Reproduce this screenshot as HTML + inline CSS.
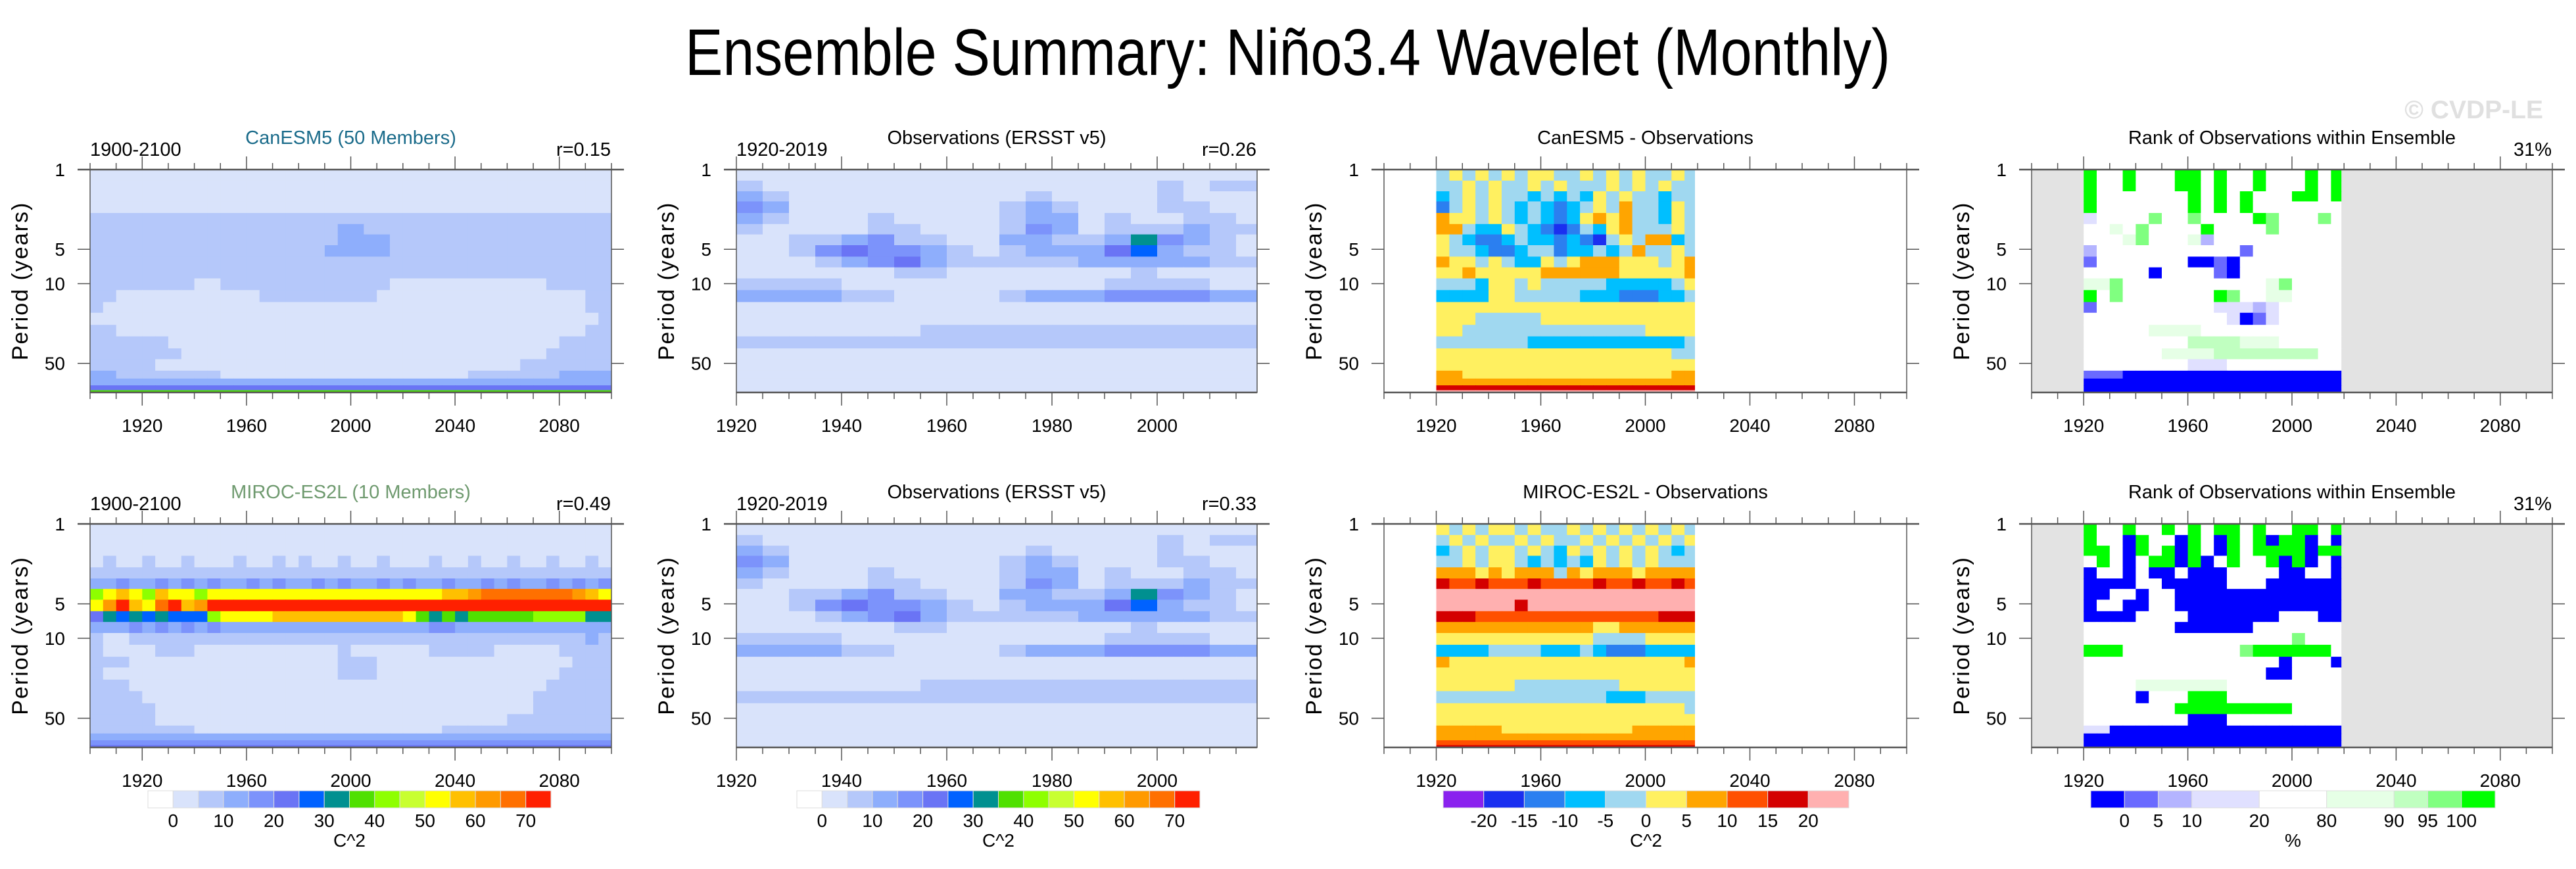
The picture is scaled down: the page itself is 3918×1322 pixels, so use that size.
<!DOCTYPE html>
<html><head><meta charset="utf-8"><style>
html,body{margin:0;padding:0;background:#fff;}
svg{display:block;font-family:"Liberation Sans",sans-serif;}
</style></head><body>
<svg id="fig" width="3918" height="1322" viewBox="0 0 3918 1322" xmlns="http://www.w3.org/2000/svg">
<rect x="0" y="0" width="3918" height="1322" fill="#fff"/>
<text x="1042" y="114" font-size="100" textLength="1833" lengthAdjust="spacingAndGlyphs">Ensemble Summary: Niño3.4 Wavelet (Monthly)</text>
<text x="3868" y="180" font-size="39" font-weight="bold" fill="#e0e0e0" text-anchor="end">© CVDP-LE</text>
<g id="layer"></g>
</svg>
<script>
// ---- data ----
const periodEdges=[1,1.25,1.55,1.9,2.4,3,3.7,4.6,5.8,7.2,9,11.4,14.5,18,23,29,37,46,58,68,78,86,90];
const powerLevels=[0,5,10,15,20,25,30,35,40,45,50,55,60,65,70];
const powerTickLabels=['0','10','20','30','40','50','60','70'];
const diffTickLabels=['-20','-15','-10','-5','0','5','10','15','20'];
const rankTickLabels=['0','5','10','20','80','90','95','100'];
const rankEdges=[-5,0,5,10,20,80,90,95,100,105];
const yearTicksLong=[1920,1960,2000,2040,2080];
const yearTicksObs=[1920,1940,1960,1980,2000];
const periodTicks=[1,5,10,50];

const canRows=[
"1111111111111111111111111111111111111111",
"1111111111111111111111111111111111111111",
"1111111111111111111111111111111111111111",
"1111111111111111111111111111111111111111",
"2222222222222222222222222222222222222222",
"2222222222222222222332222222222222222222",
"2222222222222222222333322222222222222222",
"2222222222222222223333322222222222222222",
"2222222222222222222222222222222222222222",
"2222222222222222222222222222222222222222",
"2222222211222222222222211111111111122222",
"2211111111111222222222111111111111111122",
"2111111111111111111111111111111111111122",
"1111111111111111111111111111111111111112",
"2211111111111111111111111111111111111122",
"2222221111111111111111111111111111112222",
"2222222111111111111111111111111111122222",
"2222211111111111111111111111111112222222",
"3322222222111111111111111111122222223333",
"3333333333333333333333333333333333333333",
"5555555555555555555555555555555555555555",
"8888888888888888888888888888888888888888"];
const obs1Rows=[
"11111111111111111111",
"21111111111111112122",
"32111111111211112111",
"43111111112321112211",
"32111211112331211221",
"21111221112431222322",
"11223422113322374321",
"11245443212333563221",
"11123453222223333322",
"11111122111111121111",
"22221111111111222211",
"33332211112333444433",
"11111111111111111111",
"11111111111111111111",
"11111112222222222222",
"22222222222222222222",
"11111111111111111111",
"11111111111111111111",
"11111111111111111111",
"11111111111111111111",
"11111111111111111111"];
const mirocRows=[
"1111111111111111111111111111111111111111",
"1111111111111111111111111111111111111111",
"1111111111111111111111111111111111111111",
"1211211211121121211211211121121121121121",
"2222222222222222222222222222222222222222",
"3343343434334343343433434334334343343434",
"9bcb9cbb9bbbbbbbbbbbbbbbbbbccdeeeeeeedcb",
"bdfcbefcdfffffffffffffffffffffffffffffff",
"5767676669bbbbccccccccccb878788888999977",
"3334343434333333333333333344333333333333",
"2112222222222222222222222222222222222232",
"2111122211111111111211111122222111112222",
"2221111111111111111222111111111111111222",
"2111111111111111111222111111111111112222",
"2221111111111111111111111111111111122222",
"2222111111111111111111111111111111222222",
"2222211111111111111111111111111111222222",
"2222211111111111111111111111111122222222",
"2222222211111111111111111112222222222222",
"3333333333333333333333333333333333333333",
"4444444444444444444444444444444444444444",
"5555555555555555555555555555555555555555"];
const obs2Rows=[
"11111111111111111111",
"21111111111111112122",
"32111111111211112111",
"43111111112321112211",
"32111211112331211221",
"21111221112431222322",
"11223422113322374321",
"11245443212333563221",
"11123453222223333322",
"11111122111111121111",
"22221111111111222211",
"33332211112333444433",
"11111111111111111111",
"11111111111111111111",
"11111112222222222222",
"22222222222222222222",
"11111111111111111111",
"11111111111111111111",
"11111111111111111111",
"11111111111111111111",
"11111111111111111111"];
const diff1Rows=[
"45454545544545454454",
"44545445454445454544",
"34545443434354544344",
"24545434323454644354",
"65545434323565644354",
"66433543212435644454",
"54322343323214546634",
"54432234423343464454",
"65545433545666555456",
"55655555666666555556",
"44435545444443333345",
"33335544444333222334",
"55555555555555555555",
"55544444555555555555",
"55444444444444445555",
"44444443333333333334",
"55555555555555555544",
"55555555555555555555",
"66555555555555555566",
"66666666666666666666",
"88888888888888888888",
"99999999999999999999"];
const diff2Rows=[
"54545545445454545454",
"45454454544545454545",
"34545545435454545434",
"44545543434354545444",
"66656566646566656666",
"87787778777787787787",
"99999999999999999999",
"99999989999999999999",
"88877777777777777888",
"66666666666655666666",
"55555555555544445555",
"33334444333432223333",
"65555555555555555556",
"55555555555555555555",
"55555544444444555555",
"44444444444443334444",
"55555555555555555554",
"55555555555555555555",
"66666555555555566666",
"66666666666666666666",
"77777777777777777777",
"88888888888888888888"];
const rank1Rows=[
"84484448848448444848",
"84484448848448444848",
"84444444848484448848",
"84444444848484444444",
"34444744744448744474",
"44547444484444744444",
"44457444524444444444",
"24444444444414444444",
"14444444001044444444",
"44444044441044444444",
"55744444444444574444",
"84744444448744554444",
"14444444443332344444",
"44444444444301344444",
"44444555544444444444",
"44444444666655544444",
"44444455556666666644",
"44444444333444444444",
"11100000000000000000",
"00000000000000000000",
"00000000000000000000"];
const rank2Rows=[
"84484484848848448848",
"84408440840848088040",
"88408480840848888088",
"48404880804844808040",
"04404004000444400440",
"00004400000444000000",
"00440440000000000000",
"04400440000000000000",
"00004444000000044400",
"44444440000004444444",
"44444444444444447444",
"88844444444478888884",
"44444444444444404440",
"44444444444444004444",
"44445555555444444444",
"44440444888444444444",
"44444448888888884444",
"44444444000444444444",
"33000000000000000000",
"00000000000000000000",
"00000000000000000000"];

// ---- palettes ----
const powerPal=['#ffffff','#d9e3fb','#b5c8fa','#8eaefc','#7c93fb','#6a74f5','#0062ff','#009090','#4fe000','#8eff00','#c8ff30','#ffff00','#ffc000','#ff9a00','#ff7000','#ff2000'];
const diffPal=['#8a22ee','#1a2ff0','#2b7ff0','#00bfff','#a0d8f0','#fff060','#ffa500','#ff5000','#d40000','#ffb0b0'];
const rankPal=['#0000ff','#6a6aff','#b4b4ff','#e0e0ff','#ffffff','#e6ffe6','#c0ffc0','#80ff80','#00ff00'];

const NS='http://www.w3.org/2000/svg';
const layer=document.getElementById('layer');
function mk(tag,attrs,parent){const e=document.createElementNS(NS,tag);for(const k in attrs)e.setAttribute(k,attrs[k]);(parent||layer).appendChild(e);return e;}
const LOGMAX=Math.log10(periodEdges[periodEdges.length-1]);

const panels=[
 {id:'canesm5',x0:137,x1:930,top:258,h:339,a:1900,b:2100,start:1900,step:5,rows:canRows,pal:powerPal,title:'CanESM5 (50 Members)',tcol:'#1a6b8a',left:'1900-2100',right:'r=0.15',ticks:yearTicksLong,minor:10,bg:'#fff'},
 {id:'obs-row1',x0:1120,x1:1912,top:258,h:339,a:1920,b:2019,start:1920,step:5,rows:obs1Rows,pal:powerPal,title:'Observations (ERSST v5)',tcol:'#000',left:'1920-2019',right:'r=0.26',ticks:yearTicksObs,minor:5,bg:'#fff'},
 {id:'canesm5-minus-obs',x0:2105,x1:2900,top:258,h:339,a:1900,b:2100,start:1920,step:5,rows:diff1Rows,pal:diffPal,title:'CanESM5 - Observations',tcol:'#000',left:'',right:'',ticks:yearTicksLong,minor:10,bg:'#fff'},
 {id:'rank-row1',x0:3090,x1:3882,top:258,h:339,a:1900,b:2100,start:1920,step:5,rows:rank1Rows,pal:rankPal,title:'Rank of Observations within Ensemble',tcol:'#000',left:'',right:'31%',ticks:yearTicksLong,minor:10,bg:'#e3e3e3'},
 {id:'miroc',x0:137,x1:930,top:797,h:340,a:1900,b:2100,start:1900,step:5,rows:mirocRows,pal:powerPal,title:'MIROC-ES2L (10 Members)',tcol:'#6f9a6f',left:'1900-2100',right:'r=0.49',ticks:yearTicksLong,minor:10,bg:'#fff'},
 {id:'obs-row2',x0:1120,x1:1912,top:797,h:340,a:1920,b:2019,start:1920,step:5,rows:obs2Rows,pal:powerPal,title:'Observations (ERSST v5)',tcol:'#000',left:'1920-2019',right:'r=0.33',ticks:yearTicksObs,minor:5,bg:'#fff'},
 {id:'miroc-minus-obs',x0:2105,x1:2900,top:797,h:340,a:1900,b:2100,start:1920,step:5,rows:diff2Rows,pal:diffPal,title:'MIROC-ES2L - Observations',tcol:'#000',left:'',right:'',ticks:yearTicksLong,minor:10,bg:'#fff'},
 {id:'rank-row2',x0:3090,x1:3882,top:797,h:340,a:1900,b:2100,start:1920,step:5,rows:rank2Rows,pal:rankPal,title:'Rank of Observations within Ensemble',tcol:'#000',left:'',right:'31%',ticks:yearTicksLong,minor:10,bg:'#e3e3e3'}
];

panels.forEach((P,pi)=>{
  const xS=yr=>P.x0+(yr-P.a)/(P.b-P.a)*(P.x1-P.x0);
  const yS=p=>P.top+Math.log10(p)/LOGMAX*P.h;
  const g=mk('g',{});
  
  
  const bg=mk('rect',{x:P.x0,y:P.top,width:P.x1-P.x0,height:P.h,fill:P.bg},g);
  
  
  const cells=mk('g',{},g);
  
  
  const dataEnd=Math.min(P.b, P.a===1900&&P.start===1920?2019:P.b);
  for(let i=0;i<periodEdges.length-1;i++){
    const row=P.rows[Math.min(i,P.rows.length-1)];
    const y0=yS(periodEdges[i]), y1=yS(periodEdges[i+1]);
    const ncols=Math.round(((P.start===1900?2100:2020)-P.start)/P.step);
    for(let j=0;j<ncols;j++){
      const ch=row[j]!==undefined?row[j]:row[row.length-1];
      const lv=parseInt(ch,16);
      const yr0=P.start+j*P.step;
      const yr1=Math.min(yr0+P.step,dataEnd);
      const xa=xS(yr0), xb=xS(yr1);
      const r=mk('rect',{x:xa.toFixed(1),y:y0.toFixed(1),width:(xb-xa+(yr1<dataEnd?0.6:0)).toFixed(1),height:(y1-y0+0.6).toFixed(1),fill:P.pal[lv]},cells);
      
      
    }
  }
  const fr=mk('rect',{x:P.x0,y:P.top,width:P.x1-P.x0,height:P.h,fill:'none',stroke:'#555','stroke-width':1.5},g);
  
  
  const tl=mk('line',{x1:P.x0-19,x2:P.x1+19,y1:P.top,y2:P.top,stroke:'#555','stroke-width':2.5},g);
  
  
  const bl=mk('line',{x1:P.x0,x2:P.x1,y1:P.top+P.h,y2:P.top+P.h,stroke:'#555','stroke-width':2.5},g);
  
  
  for(let yr=P.a;yr<=P.b;yr+=P.minor){
    const x=xS(yr);
    const major=P.ticks.indexOf(yr)>=0;
    const L=major?20:10;
    const t1=mk('line',{x1:x,x2:x,y1:P.top,y2:P.top-L,stroke:'#555','stroke-width':1.5},g);
    
    
    const t2=mk('line',{x1:x,x2:x,y1:P.top+P.h,y2:P.top+P.h+L,stroke:'#555','stroke-width':1.5},g);
    
    
  }
  P.ticks.forEach(yr=>{
    const t=mk('text',{x:xS(yr),y:P.top+P.h+60,'font-size':28,'text-anchor':'middle'},g);
    t.textContent=yr;
    
    
  });
  periodTicks.forEach(p=>{
    const y=yS(p);
    const a=mk('line',{x1:P.x0-19,x2:P.x0,y1:y,y2:y,stroke:'#555','stroke-width':1.5},g);
    
    
    const b=mk('line',{x1:P.x1,x2:P.x1+19,y1:y,y2:y,stroke:'#555','stroke-width':1.5},g);
    
    
    const t=mk('text',{x:P.x0-38,y:y+10,'font-size':28,'text-anchor':'end'},g);
    t.textContent=p;
    
    
  });
  const yl=mk('text',{x:0,y:0,'font-size':34,'text-anchor':'middle','letter-spacing':2,transform:`translate(${P.x0-95},${P.top+P.h/2}) rotate(-90)`},g);
  yl.textContent='Period (years)';
  
  
  const cx=(P.x0+P.x1)/2;
  const ti=mk('text',{x:cx,y:P.top-39,'font-size':29,'text-anchor':'middle',fill:P.tcol},g);
  ti.textContent=P.title;
  
  
  if(P.left){
    const l=mk('text',{x:P.x0,y:P.top-21,'font-size':29},g);
    l.textContent=P.left;
    
    
  }
  if(P.right){
    const r=mk('text',{x:P.x1-1,y:P.top-21,'font-size':29,'text-anchor':'end'},g);
    r.textContent=P.right;
    
    
  }
});

function colorbar(name,x0,x1,cols,widths,labels,labelIdx,unit){
  const g=mk('g',{});
  
  
  const total=widths.reduce((s,v)=>s+v,0);
  let acc=0; const edges=[x0];
  cols.forEach((c,i)=>{
    const xa=x0+acc/total*(x1-x0); acc+=widths[i]; const xb=x0+acc/total*(x1-x0); edges.push(xb);
    const r=mk('rect',{x:xa,y:1203,width:xb-xa,height:26,fill:c,stroke:'#ddd','stroke-width':1},g);
    
    
  });
  labels.forEach((lab,k)=>{
    const t=mk('text',{x:edges[labelIdx[k]],y:1258,'font-size':28,'text-anchor':'middle'},g);
    t.textContent=lab;
    
    
  });
  const u=mk('text',{x:(x0+x1)/2,y:1288,'font-size':28,'text-anchor':'middle'},g);
  u.textContent=unit;
  
  
}
const ones=n=>Array(n).fill(1);
colorbar('power-colorbar-1',225,838,powerPal,ones(16),powerTickLabels,[1,3,5,7,9,11,13,15],'C^2');
colorbar('power-colorbar-2',1212,1825,powerPal,ones(16),powerTickLabels,[1,3,5,7,9,11,13,15],'C^2');
colorbar('difference-colorbar',2195,2812,diffPal,ones(10),diffTickLabels,[1,2,3,4,5,6,7,8,9],'C^2');
colorbar('rank-colorbar',3180,3795,rankPal,[1,1,1,2,2,2,1,1,1],rankTickLabels,[1,2,3,4,5,6,7,8],'%');
</script>
</body></html>
